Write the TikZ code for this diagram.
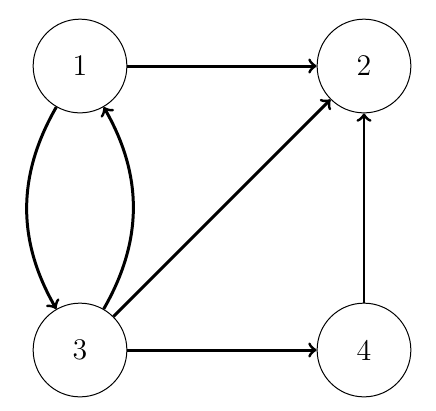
\documentclass[tikz,border=0pt]{standalone}
\usepackage{amsmath}
\usepackage{amssymb}
\usepackage{tikz}

\begin{document}
\begin{tikzpicture}[vertex/.style={circle,draw,minimum size=1.32cm,inner sep=0pt,font=\large},
    arc/.style={->,very thick}]
    \useasboundingbox (-1.127,-0.845) rectangle (5.014,4.93);
    \node[vertex] (n1) at (0,4) {1};
    \node[vertex] (n2) at (4,4) {2};
    \node[vertex] (n3) at (0,0) {3};
    \node[vertex] (n4) at (4,0) {4};

    \draw[arc] (n1) -- (n2);
    \draw[arc] (n1) to[bend right=30] (n3);
    \draw[arc] (n3) to[bend right=30] (n1);
    \draw[arc] (n3) -- (n2);
    \draw[arc] (n3) -- (n4);
    \draw[arc] (n4) -- (n2);
\end{tikzpicture}
\end{document}
